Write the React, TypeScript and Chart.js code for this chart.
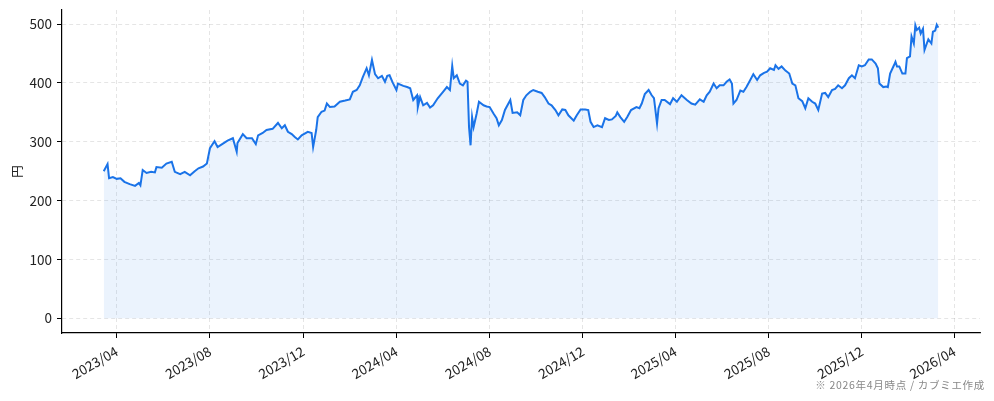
import React, { useEffect, useRef } from "react";
import { Chart, registerables } from "chart.js";

Chart.register(...registerables);

const dates: string[] = [
  "2023-03-15","2023-03-20","2023-03-22","2023-03-27","2023-04-01","2023-04-06","2023-04-11","2023-04-18","2023-04-25","2023-04-30",
  "2023-05-02","2023-05-05","2023-05-10","2023-05-16","2023-05-21","2023-05-23","2023-05-30","2023-06-05","2023-06-12","2023-06-16",
  "2023-06-23","2023-06-29","2023-07-06","2023-07-12","2023-07-17","2023-07-23","2023-07-28","2023-08-01","2023-08-07","2023-08-11",
  "2023-08-18","2023-08-24","2023-08-31","2023-09-05","2023-09-06","2023-09-13","2023-09-18","2023-09-25","2023-09-30","2023-10-03",
  "2023-10-09","2023-10-14","2023-10-22","2023-10-29","2023-11-03","2023-11-07","2023-11-11","2023-11-16","2023-11-20","2023-11-24",
  "2023-11-29","2023-12-07","2023-12-12","2023-12-14","2023-12-18","2023-12-20","2023-12-25","2023-12-29","2024-01-01","2024-01-05",
  "2024-01-11","2024-01-18","2024-01-25","2024-01-31","2024-02-04","2024-02-09","2024-02-13","2024-02-17","2024-02-22","2024-02-25",
  "2024-02-29","2024-03-04","2024-03-08","2024-03-13","2024-03-17","2024-03-20","2024-03-23","2024-03-27","2024-04-01","2024-04-03",
  "2024-04-10","2024-04-15","2024-04-19","2024-04-23","2024-04-28","2024-04-29","2024-05-02","2024-05-06","2024-05-11","2024-05-15",
  "2024-05-19","2024-05-25","2024-06-01","2024-06-06","2024-06-10","2024-06-13","2024-06-15","2024-06-19","2024-06-23","2024-06-27",
  "2024-07-01","2024-07-03","2024-07-05","2024-07-07","2024-07-09","2024-07-11","2024-07-15","2024-07-18","2024-07-24","2024-07-28",
  "2024-08-01","2024-08-06","2024-08-10","2024-08-13","2024-08-17","2024-08-21","2024-08-28","2024-08-31","2024-09-06","2024-09-10",
  "2024-09-14","2024-09-18","2024-09-23","2024-09-27","2024-10-03","2024-10-08","2024-10-12","2024-10-17","2024-10-21","2024-10-26",
  "2024-10-30","2024-11-04","2024-11-08","2024-11-12","2024-11-19","2024-11-23","2024-11-28","2024-12-04","2024-12-08","2024-12-11",
  "2024-12-15","2024-12-20","2024-12-26","2024-12-30","2025-01-04","2025-01-08","2025-01-13","2025-01-15","2025-01-19","2025-01-24",
  "2025-01-28","2025-02-02","2025-02-09","2025-02-13","2025-02-16","2025-02-20","2025-02-25","2025-03-01","2025-03-04","2025-03-08",
  "2025-03-10","2025-03-14","2025-03-18","2025-03-25","2025-03-29","2025-04-03","2025-04-09","2025-04-16","2025-04-22","2025-04-27",
  "2025-05-03","2025-05-08","2025-05-12","2025-05-16","2025-05-21","2025-05-25","2025-05-29","2025-06-03","2025-06-07","2025-06-11",
  "2025-06-14","2025-06-16","2025-06-20","2025-06-25","2025-06-29","2025-07-03","2025-07-08","2025-07-12","2025-07-17","2025-07-21",
  "2025-07-26","2025-07-30","2025-08-03","2025-08-08","2025-08-10","2025-08-14","2025-08-18","2025-08-23","2025-08-28","2025-09-01",
  "2025-09-05","2025-09-09","2025-09-14","2025-09-18","2025-09-22","2025-09-27","2025-10-01","2025-10-05","2025-10-10","2025-10-14",
  "2025-10-18","2025-10-23","2025-10-27","2025-10-31","2025-11-05","2025-11-09","2025-11-14","2025-11-18","2025-11-22","2025-11-27",
  "2025-12-01","2025-12-05","2025-12-10","2025-12-14","2025-12-19","2025-12-22","2025-12-24","2025-12-29","2026-01-02","2026-01-04",
  "2026-01-07","2026-01-12","2026-01-14","2026-01-16","2026-01-19","2026-01-23","2026-01-27","2026-01-29","2026-02-02","2026-02-04",
  "2026-02-07","2026-02-09","2026-02-11","2026-02-14","2026-02-16","2026-02-19","2026-02-21","2026-02-24","2026-02-26","2026-03-02",
  "2026-03-04","2026-03-07","2026-03-09","2026-03-11",
];

const prices: number[] = [
  250,262,238,240,237,238,232,228,225,230,
  226,252,247,249,248,257,256,263,266,249,
  245,249,243,250,255,258,263,289,301,291,
  297,302,306,283,298,313,306,306,296,311,
  315,320,322,332,323,328,317,313,308,304,
  311,317,315,291,320,342,351,353,365,359,
  360,368,370,372,385,388,396,410,425,413,
  439,415,408,412,402,412,413,401,388,399,
  395,393,391,371,379,359,376,362,366,358,
  362,374,385,393,388,429,408,413,399,396,
  404,402,325,294,342,325,348,368,362,360,
  359,348,340,328,337,354,371,349,350,345,
  371,379,385,388,385,383,376,365,362,354,
  345,355,354,345,336,345,355,355,354,334,
  325,328,325,340,337,338,344,350,342,334,
  342,354,359,357,365,381,388,379,374,331,
  357,371,371,364,374,368,379,371,365,363,
  372,368,379,385,399,391,396,396,402,406,
  399,365,371,387,385,393,405,415,405,413,
  417,419,425,422,430,424,428,421,416,399,
  396,374,369,357,374,368,365,354,382,383,
  376,388,390,396,391,396,408,413,408,430,
  428,430,440,440,433,425,399,393,394,393,
  416,430,436,428,428,416,416,442,445,479,
  467,498,490,494,484,492,456,467,474,467,
  487,489,499,494,
];

const xTickLabels: string[] = [
  "2023/04","2023/08","2023/12","2024/04","2024/08","2024/12","2025/04","2025/08","2025/12","2026/04",
];
const yTickValues: number[] = [0, 100, 200, 300, 400, 500];
const yAxisTitle = "円";
const footnote = "※ 2026年4月時点 / カブミエ作成";

const FONT = '"Noto Sans CJK JP", "Noto Sans", sans-serif';

const toTime = (s: string) => Date.parse(s + "T00:00:00Z");
const labelToTime = (l: string) => {
  const [y, m] = l.split("/").map(Number);
  return Date.UTC(y, m - 1, 1);
};

export default function App() {
  const ref = useRef<HTMLCanvasElement | null>(null);

  useEffect(() => {
    document.body.style.margin = "0";
    const canvas = ref.current;
    if (!canvas) return;

    const points = dates.map((d, i) => ({ x: toTime(d), y: prices[i] }));
    const tMin = points[0].x;
    const tMax = points[points.length - 1].x;
    const tSpan = tMax - tMin;
    const yLo = 0;
    const yHi = Math.max(...prices);
    const ySpan = yHi - yLo;
    const xTickValues = xTickLabels.map(labelToTime);

    const chart = new Chart(canvas, {
      type: "line",
      data: {
        datasets: [
          {
            data: points,
            borderColor: "#1a73e8",
            borderWidth: 2,
            pointRadius: 0,
            tension: 0,
            fill: "origin",
            backgroundColor: "rgba(26,115,232,0.085)",
          },
        ],
      },
      options: {
        responsive: false,
        animation: false,
        devicePixelRatio: 1,
        layout: { padding: { left: 0, right: 14, top: 10, bottom: 0 } },
        plugins: {
          legend: { display: false },
          tooltip: { enabled: false },
        },
        scales: {
          x: {
            type: "linear",
            min: tMin - 0.05 * tSpan,
            max: tMax + 0.05 * tSpan,
            afterBuildTicks: (scale: any) => {
              scale.ticks = xTickValues.map((v) => ({ value: v }));
            },
            afterFit: (scale: any) => {
              scale.height = 68;
              scale.paddingLeft = 0;
              scale.paddingRight = 0;
            },
            ticks: {
              autoSkip: false,
              minRotation: 30,
              maxRotation: 30,
              padding: 5,
              color: "#222",
              font: { family: FONT, size: 13.5 },
              callback: (v: any) => {
                const i = xTickValues.indexOf(Number(v));
                return i >= 0 ? xTickLabels[i] : "";
              },
            },
            grid: {
              color: "rgba(0,0,0,0.13)",
              lineWidth: 0.8,
              tickLength: 5,
              tickColor: "#000",
              tickWidth: 1,
            },
            border: { display: true, color: "#000", width: 1.2, dash: [4, 3] },
          },
          y: {
            type: "linear",
            min: yLo - 0.05 * ySpan,
            max: yHi + 0.05 * ySpan,
            afterBuildTicks: (scale: any) => {
              scale.ticks = yTickValues.map((v) => ({ value: v }));
            },
            afterFit: (scale: any) => {
              scale.width = 62;
              scale.paddingTop = 0;
              scale.paddingBottom = 0;
            },
            ticks: {
              padding: 5,
              color: "#222",
              font: { family: FONT, size: 13.5 },
              callback: (v: any) => String(v),
            },
            grid: {
              color: "rgba(0,0,0,0.13)",
              lineWidth: 0.8,
              tickLength: 5,
              tickColor: "#000",
              tickWidth: 1,
            },
            border: { display: true, color: "#000", width: 1.2, dash: [4, 3] },
            title: {
              display: true,
              text: yAxisTitle,
              color: "#222",
              font: { family: FONT, size: 12.5 },
              padding: { top: 10, bottom: 0 },
            },
          },
        },
      },
    });

    return () => chart.destroy();
  }, []);

  return (
    <div style={{ position: "relative", width: 994, height: 401, background: "#fff" }}>
      <canvas ref={ref} width={994} height={401} style={{ width: 994, height: 401, display: "block" }} />
      <div
        style={{
          position: "absolute",
          right: 9,
          top: 377,
          fontFamily: FONT,
          fontSize: 10.5,
          color: "#888",
          whiteSpace: "nowrap",
          letterSpacing: 0.7,
        }}
      >
        {footnote}
      </div>
    </div>
  );
}
